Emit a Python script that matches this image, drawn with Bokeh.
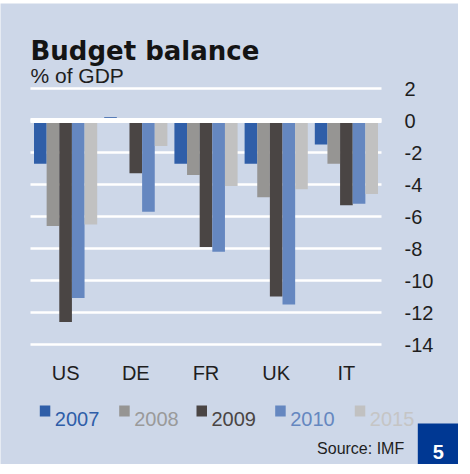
from bokeh.plotting import figure
from bokeh.models import Range1d, FixedTicker, LinearAxis
from bokeh.core.properties import value
from bokeh.embed import file_html
from bokeh.resources import INLINE

# ---------------- data ----------------
countries = ["US", "DE", "FR", "UK", "IT"]
years = ["2007", "2008", "2009", "2010", "2015"]
v2007 = [-2.7, 0.2, -2.7, -2.7, -1.5]
v2008 = [-6.6, 0.0, -3.4, -4.8, -2.7]
v2009 = [-12.6, -3.3, -7.9, -11.0, -5.3]
v2010 = [-11.1, -5.7, -8.2, -11.5, -5.2]
v2015 = [-6.5, -1.6, -4.1, -4.3, -4.6]
series = [v2007, v2008, v2009, v2010, v2015]
y_ticks = [2, 0, -2, -4, -6, -8, -10, -12, -14]

title = "Budget balance"
subtitle = "% of GDP"
source_note = "Source: IMF"
page_no = "5"

# ---------------- styles ----------------
PANEL = "#cdd7e8"
TEXT = "#1e1e1e"
NAVY = "#003893"
colors = ["#2f5ea8", "#969593", "#4a4544", "#6587c0", "#c1c1c1"]
legend_text_colors = ["#2f5ea8", "#9a9a9a", "#4a4544", "#6587c0", "#c5c5c5"]
FONT = "Liberation Sans"

# layout geometry (page pixels): plot area spans x 38..389, y(2)=96, y(-14)=352
PX_PER_CAT = 351 / len(countries)
PX_PER_UNIT = 16.0
def X(px):
    return (px - 38) / PX_PER_CAT
def Y(py):
    return (128 - py) / PX_PER_UNIT

p = figure(
    x_range=Range1d(X(8), X(466)), y_range=Range1d(Y(472), Y(8)),
    frame_width=458, frame_height=464, min_border=0,
    x_axis_type=None, y_axis_type=None,
    output_backend="svg", toolbar_location=None,
    background_fill_color="white", border_fill_color="white", outline_line_color=None,
)

# panel background
p.quad(left=[X(6)], right=[X(466)], top=[Y(11)], bottom=[Y(472)],
       fill_color=PANEL, line_color=None)

n = len(countries)
ymin = min(y_ticks)

# gridlines (across the plot area only)
p.segment(x0=0, x1=n, y0=y_ticks, y1=y_ticks, line_color="white", line_width=2.5)

# bars
offsets = [-0.36, -0.18, 0.0, 0.18, 0.36]
for vals, off, col in zip(series, offsets, colors):
    xs = [i + 0.5 + off for i in range(n)]
    p.vbar(x=xs, top=vals, bottom=0, width=0.18, fill_color=col, line_color=None)

# zero line on top of the bars
p.segment(x0=[0], x1=[n], y0=[0], y1=[0], line_color="white", line_width=5)

# axes (fixed inside the canvas)
yaxis = LinearAxis(fixed_location=n, ticker=FixedTicker(ticks=y_ticks),
                   major_label_overrides={t: str(t) for t in y_ticks})
xcenters = [i + 0.5 for i in range(n)]
xaxis = LinearAxis(fixed_location=ymin, ticker=FixedTicker(ticks=xcenters),
                   major_label_overrides={c: name for c, name in zip(xcenters, countries)})
for ax in (xaxis, yaxis):
    ax.axis_line_color = None
    ax.major_tick_line_color = None
    ax.minor_tick_line_color = None
    ax.major_tick_out = 0
    ax.major_tick_in = 0
    ax.major_label_text_font = FONT
    ax.major_label_text_font_size = "20px"
    ax.major_label_text_color = TEXT
xaxis.major_label_standoff = 17
yaxis.major_label_standoff = 23
p.add_layout(yaxis, "right")
p.add_layout(xaxis, "below")

# titles
p.text(x=[X(38)], y=[Y(58.3)], text=[title], text_font=value("DejaVu Sans"),
       text_font_style="bold", text_font_size="26px", text_color="#141414",
       text_baseline="alphabetic", text_align="left")
p.text(x=[X(38)], y=[Y(83.3)], text=[subtitle], text_font=value(FONT),
       text_font_size="21px", text_color=TEXT,
       text_baseline="alphabetic", text_align="left")

# legend
sq_left = [47.3, 126.7, 204.0, 282.7, 362.3]
p.quad(left=[X(s) for s in sq_left], right=[X(s + 10.5) for s in sq_left],
       top=Y(413), bottom=Y(424), fill_color=colors, line_color=None)
p.text(x=[X(s + 15) for s in sq_left], y=Y(426), text=years, text_font=value(FONT),
       text_font_size="20px", text_color=legend_text_colors,
       text_baseline="alphabetic", text_align="left")

# source + page number box
p.text(x=[X(411.7)], y=[Y(455.7)], text=[source_note], text_font=value(FONT),
       text_font_size="16px", text_color=TEXT,
       text_baseline="alphabetic", text_align="right")
p.quad(left=[X(425.3)], right=[X(466)], top=[Y(431)], bottom=[Y(472)],
       fill_color=NAVY, line_color=None)
p.text(x=[X(445.8)], y=[Y(459.5)], text=[page_no], text_font=value(FONT),
       text_font_style="bold", text_font_size="20px", text_color="white",
       text_baseline="alphabetic", text_align="center")

open("out.html", "w").write(file_html(p, INLINE))
